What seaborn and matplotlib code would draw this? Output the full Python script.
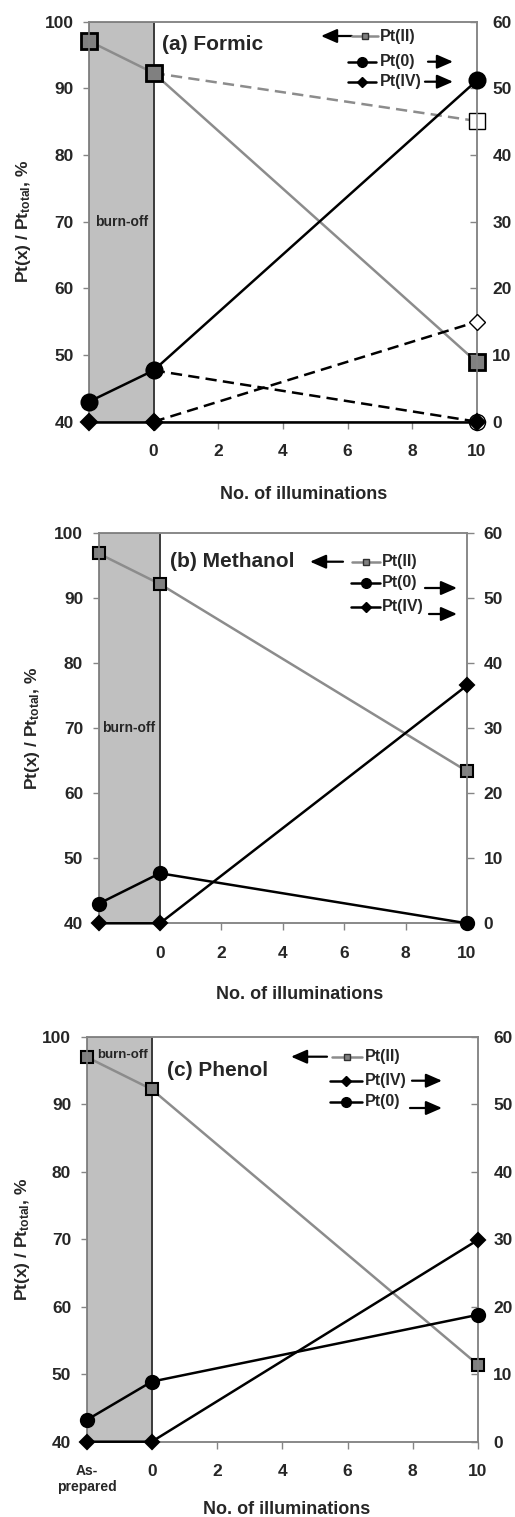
import numpy as np
import pandas as pd
import matplotlib
matplotlib.use("Agg")
import matplotlib.pyplot as plt
import seaborn as sns
from matplotlib.lines import Line2D
from matplotlib.patches import FancyArrowPatch

sns.set_style("white")
plt.rcParams["font.family"] = ["Liberation Sans", "DejaVu Sans"]
plt.rcParams["font.weight"] = "bold"
plt.rcParams["mathtext.fontset"] = "custom"
plt.rcParams["mathtext.rm"] = "Liberation Sans:bold"
plt.rcParams["mathtext.it"] = "Liberation Sans:bold"
plt.rcParams["mathtext.bf"] = "Liberation Sans:bold"
plt.rcParams["mathtext.default"] = "rm"

# ---- data -------------------------------------------------------------
steps = [-2, 0, 10]                       # as-prepared, after burn-off, 10 illuminations
step_ticks = [-2, 0, 2, 4, 6, 8, 10]
tick_labels_ab = ["", "0", "2", "4", "6", "8", "10"]
tick_labels_c = ["As-\nprepared", "0", "2", "4", "6", "8", "10"]
left_ticks = [40, 50, 60, 70, 80, 90, 100]
right_ticks = [0, 10, 20, 30, 40, 50, 60]

# (a) Formic  -- Pt(II) on left axis, Pt(0) / Pt(IV) on right axis
formic_pt2 = [97.1, 92.3, 48.9]
formic_pt0 = [3.0, 7.7, 51.2]
formic_pt4 = [0.0, 0.0, 0.0]
formic_alt_steps = [0, 10]
formic_alt_pt2 = [92.3, 85.1]
formic_alt_pt0 = [7.7, 0.0]
formic_alt_pt4 = [0.0, 15.0]

# (b) Methanol
methanol_pt2 = [96.9, 92.2, 63.4]
methanol_pt0 = [3.0, 7.7, 0.0]
methanol_pt4 = [0.0, 0.0, 36.6]

# (c) Phenol
phenol_pt2 = [97.0, 92.2, 51.4]
phenol_pt4 = [0.0, 0.0, 29.9]
phenol_pt0 = [3.2, 8.9, 18.8]

# ---- layout helpers (figure pixels) ------------------------------------
W, H = 515, 1517
fig = plt.figure(figsize=(W / 100, H / 100), dpi=100)


def fxy(x, y):
    return x / W, 1 - y / H


def rect(l, r, t, b):
    return [l / W, 1 - b / H, (r - l) / W, (b - t) / H]


GRAY_LINE = "#8c8c8c"
GRAY_FILL = "#808080"
SPINE = "#858585"


def series(ax, x, y, marker, ms, color, mfc, mec="black", mew=1.5, ls="-", lw=1.8, dashes=None):
    kw = dict(x=x, y=y, ax=ax, color=color, lw=lw, linestyle=ls, marker=marker,
              markersize=ms, markerfacecolor=mfc, markeredgecolor=mec,
              markeredgewidth=mew, clip_on=False, legend=False, zorder=5)
    if dashes is not None:
        kw["dashes"] = dashes
        kw.pop("linestyle")
    sns.lineplot(**kw)


def setup_axes(pos, right_dir, right_pad, labels, ylab_x, xlab_xy, xlab_size=13):
    ax = fig.add_axes(rect(*pos))
    ax2 = ax.twinx()
    ax.set_xlim(-2, 10)
    ax.set_ylim(40, 100)
    ax2.set_ylim(0, 60)
    ax.axvspan(-2, 0, facecolor="#c0c0c0", edgecolor="#3a3a3a", lw=1.4, zorder=0)
    for a in (ax, ax2):
        for s in a.spines.values():
            s.set_color(SPINE)
            s.set_linewidth(1.1)
    ax.set_yticks(left_ticks)
    ax2.set_yticks(right_ticks)
    ax.set_xticks(step_ticks)
    ax.set_xticklabels(labels)
    ax.tick_params(axis="y", direction="out", length=4, width=1, color=SPINE,
                   pad=7, labelsize=12.5, left=True)
    ax.tick_params(axis="x", direction="out", length=5, width=1, color=SPINE,
                   pad=11, labelsize=12.5, bottom=True)
    ax2.tick_params(axis="y", direction=right_dir, length=5, width=1, color=SPINE,
                    pad=right_pad, labelsize=12.5, right=True)
    ax.set_ylabel("Pt(x) / Pt$_{total}$, %", fontsize=12.5, fontweight="bold")
    ax.yaxis.set_label_coords(ylab_x, 0.5)
    ax.set_xlabel("No. of illuminations", fontsize=xlab_size, fontweight="bold")
    ax.xaxis.set_label_coords(*xlab_xy)
    ax.xaxis.label.set_va("top")
    ax.grid(False)
    ax2.grid(False)
    return ax, ax2


def legend_row(x0, x1, y, marker, ms, color, mfc, label, tx, fs=11.5):
    fig.add_artist(Line2D([x0 / W, x1 / W], [1 - y / H] * 2, color=color, lw=1.8,
                          transform=fig.transFigure))
    fig.add_artist(Line2D([(x0 + x1) / 2 / W], [1 - y / H], ls="none", marker=marker,
                          ms=ms, mfc=mfc, mec="black" if mfc != GRAY_FILL else "#303030",
                          mew=1.0, transform=fig.transFigure))
    fig.text(tx / W, 1 - y / H, label, ha="left", va="center", fontsize=fs,
             fontweight="bold")


def arrow(tail, head):
    fig.add_artist(FancyArrowPatch(fxy(*tail), fxy(*head), transform=fig.transFigure,
                                   arrowstyle="-|>,head_length=0.8,head_width=0.35",
                                   mutation_scale=12, lw=1.6, color="black",
                                   shrinkA=0, shrinkB=0))


# ---- (a) Formic -------------------------------------------------------
ax, ax2 = setup_axes((89, 477, 21.7, 421.7), "in", 11, tick_labels_ab, -0.145, (0.554, -0.16))
series(ax, formic_alt_steps, formic_alt_pt2, "s", 11, GRAY_LINE, "white", mew=1.0,
       dashes=(4.5, 2.5))
series(ax, steps, formic_pt2, "s", 11, GRAY_LINE, GRAY_FILL, mew=2.0)
series(ax2, formic_alt_steps, formic_alt_pt4, "D", 8, "black", "white", mew=1.0,
       dashes=(4.5, 2.5))
series(ax2, formic_alt_steps, formic_alt_pt0, "o", 11.5, "black", "none", mew=1.0,
       dashes=(4.5, 2.5))
series(ax2, steps, formic_pt0, "o", 11.5, "black", "black")
series(ax2, steps, formic_pt4, "D", 8.5, "black", "black")

fig.text(*fxy(162, 44), "(a) Formic", fontsize=15, fontweight="bold", ha="left", va="center")
fig.text(*fxy(95, 221.7), "burn-off", fontsize=10, fontweight="bold", ha="left", va="center")
legend_row(352, 378, 36, "s", 5, GRAY_LINE, GRAY_FILL, "Pt(II)", 380)
arrow((352, 36), (321, 36))
legend_row(348, 376, 61.7, "o", 7, "black", "black", "Pt(0)", 380)
arrow((428, 61.7), (453, 61.7))
legend_row(348, 376, 81.7, "D", 5, "black", "black", "Pt(IV)", 380)
arrow((425, 81.7), (453, 81.7))

# ---- (b) Methanol -----------------------------------------------------
ax, ax2 = setup_axes((98.5, 467, 533.3, 923.3), "out", 7, tick_labels_ab, -0.153, (0.547, -0.16))
series(ax, steps, methanol_pt2, "s", 9, GRAY_LINE, GRAY_FILL, mew=1.5)
series(ax2, steps, methanol_pt0, "o", 9.5, "black", "black")
series(ax2, steps, methanol_pt4, "D", 7, "black", "black")

fig.text(*fxy(170, 561.7), "(b) Methanol", fontsize=15, fontweight="bold", ha="left", va="center")
fig.text(*fxy(101.7, 728), "burn-off", fontsize=10, fontweight="bold", ha="left", va="center")
legend_row(352, 380, 561.7, "s", 5, GRAY_LINE, GRAY_FILL, "Pt(II)", 382)
arrow((343, 561.7), (310, 561.7))
legend_row(351, 380, 583, "o", 7, "black", "black", "Pt(0)", 382)
arrow((425, 588), (457, 588))
legend_row(351, 380, 607, "D", 5, "black", "black", "Pt(IV)", 382)
arrow((429, 614), (457, 614))

# ---- (c) Phenol -------------------------------------------------------
ax, ax2 = setup_axes((86.5, 478, 1036.7, 1441.7), "in", 11, tick_labels_c, -0.139, (0.51, -0.146))
for t in ax.get_xticklabels()[:1]:
    t.set_fontsize(10)
    t.set_linespacing(1.2)
series(ax, steps, phenol_pt2, "s", 9, GRAY_LINE, GRAY_FILL, mew=1.5)
series(ax2, steps, phenol_pt0, "o", 9.5, "black", "black")
series(ax2, steps, phenol_pt4, "D", 7, "black", "black")

fig.text(*fxy(166.7, 1070), "(c) Phenol", fontsize=15, fontweight="bold", ha="left", va="center")
fig.text(*fxy(96.7, 1055), "burn-off", fontsize=9.5, fontweight="bold", ha="left", va="center")
legend_row(332, 362, 1056.7, "s", 5, GRAY_LINE, GRAY_FILL, "Pt(II)", 365)
arrow((327, 1056.7), (291, 1056.7))
legend_row(330, 362, 1080.7, "D", 5, "black", "black", "Pt(IV)", 365)
arrow((412, 1080.7), (442, 1080.7))
legend_row(330, 362, 1101.7, "o", 7, "black", "black", "Pt(0)", 365)
arrow((410, 1108), (442, 1108))

fig.savefig("out.png", dpi=100)
